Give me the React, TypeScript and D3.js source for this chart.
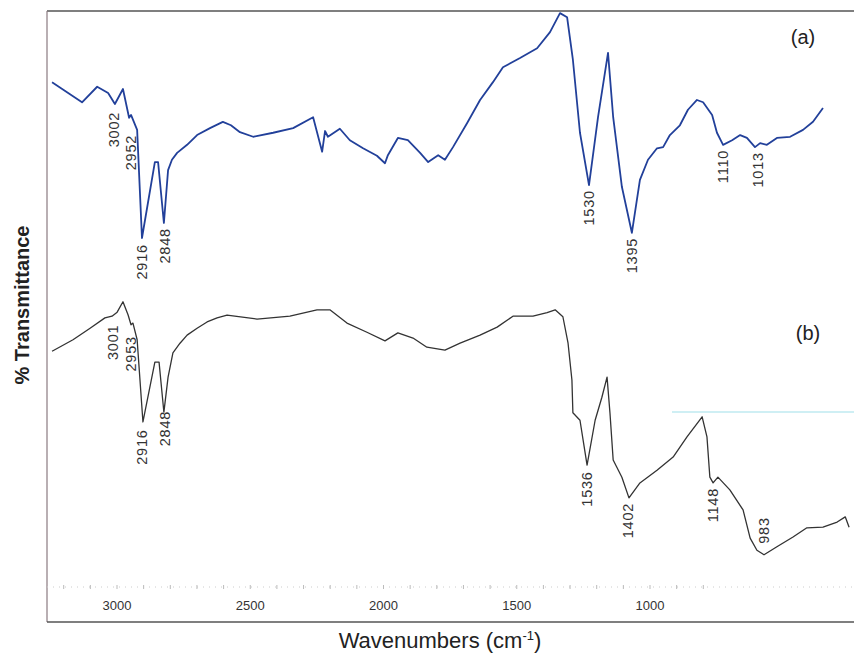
import React from 'react';
import * as d3 from 'd3';

// spectrum (a), blue: wavenumber (cm-1) and % transmittance
const waveA = [3195, 3102, 3055, 3021, 3000, 2975, 2956, 2950, 2931, 2916, 2876, 2866, 2848, 2835, 2823, 2807, 2776, 2745, 2705, 2665, 2640, 2612, 2571, 2509, 2447, 2385, 2357, 2348, 2339, 2302, 2271, 2230, 2187, 2162, 2153, 2122, 2091, 2053, 2028, 1997, 1976, 1951, 1907, 1867, 1827, 1796, 1743, 1690, 1650, 1619, 1597, 1579, 1557, 1529, 1501, 1470, 1454, 1427, 1396, 1371, 1346, 1318, 1299, 1278, 1247, 1222, 1194, 1175, 1147, 1132, 1113, 1085, 1060, 1039, 1014, 998, 977, 946, 905, 865, 834, 803];
const transA = [87.8, 84.3, 87.0, 85.9, 84.0, 86.6, 81.6, 82.1, 79.5, 60.7, 73.9, 73.9, 63.3, 72.5, 74.3, 75.5, 76.9, 78.6, 79.8, 80.9, 80.3, 79.1, 78.3, 79.0, 79.8, 81.7, 75.7, 79.3, 78.3, 79.7, 77.7, 76.3, 75.0, 73.7, 75.1, 78.1, 77.7, 75.5, 73.9, 75.1, 74.3, 76.5, 80.7, 84.7, 87.8, 90.4, 92.0, 93.7, 96.5, 99.8, 99.1, 91.7, 79.0, 69.9, 81.7, 92.9, 81.7, 69.6, 61.6, 70.8, 74.3, 76.3, 76.5, 78.6, 80.3, 83.0, 84.7, 84.3, 82.1, 79.0, 76.9, 77.7, 78.6, 78.1, 76.5, 77.2, 76.9, 78.1, 78.3, 79.5, 80.9, 83.3];

// spectrum (b), dark grey
const waveB = [3195, 3130, 3077, 3031, 3009, 2993, 2975, 2959, 2950, 2944, 2931, 2913, 2876, 2863, 2848, 2835, 2820, 2798, 2776, 2745, 2714, 2683, 2652, 2559, 2457, 2373, 2333, 2280, 2218, 2162, 2122, 2075, 2032, 1976, 1929, 1867, 1814, 1765, 1703, 1659, 1634, 1610, 1594, 1582, 1579, 1557, 1535, 1510, 1489, 1473, 1464, 1454, 1427, 1405, 1371, 1318, 1268, 1225, 1178, 1163, 1154, 1144, 1129, 1092, 1051, 1029, 1008, 986, 946, 896, 853, 803, 759, 734, 722];
const transB = [41.0, 43.0, 45.0, 46.8, 47.1, 47.8, 49.6, 47.3, 45.6, 45.9, 43.0, 28.7, 39.1, 39.1, 30.4, 36.5, 40.7, 42.4, 43.8, 45.0, 46.1, 46.8, 47.3, 46.6, 47.1, 48.2, 48.2, 45.9, 44.3, 42.8, 44.2, 43.3, 41.7, 41.2, 42.4, 43.8, 45.2, 47.1, 47.1, 47.7, 48.2, 47.0, 42.4, 36.0, 30.3, 29.0, 21.2, 29.0, 33.0, 36.5, 30.3, 22.1, 19.1, 15.5, 18.1, 20.3, 22.6, 26.1, 29.6, 26.1, 19.1, 18.1, 19.1, 16.9, 13.4, 8.5, 6.4, 5.6, 7.0, 8.7, 10.3, 10.4, 11.3, 12.2, 10.4];

// band labels: text, wavenumber and transmittance level the label hangs from
const bandsA = ['3002', '2952', '2916', '2848', '1530', '1395', '1110', '1013'];
const bandWaveA = [3003, 2951, 2916, 2844, 1529, 1395, 1113, 1006];
const bandLevelA = [83.5, 79.5, 60.5, 63.3, 69.9, 61.6, 76.9, 76.5];
const bandsB = ['3001', '2953', '2916', '2848', '1536', '1402', '1148', '983'];
const bandWaveB = [3006, 2950, 2916, 2844, 1537, 1408, 1144, 986];
const bandLevelB = [46.5, 44.5, 28.3, 31.5, 21.0, 15.5, 18.1, 13.0];

// printed axis
const axisTicks = [3000, 2500, 2000, 1500, 1000];

const W = 854;
const H = 662;

export default function App() {
  const x = d3.scaleLinear().domain([3356.5, 0]).range([0, 1081.8]);
  const xPrinted = d3.scaleLinear().domain([3000, 1000]).range([117, 650]);
  const y = d3.scaleLinear().domain([0, 100]).range([587, 12]);

  const pathFor = (ws: number[], ts: number[]) =>
    d3.line<number>()
      .x((_, i) => x(ws[i]))
      .y((_, i) => y(ts[i]))(ws.map((_, i) => i)) || '';

  const minorTicks = d3.range(3200, 700, -100);

  const labels = (names: string[], ws: number[], lv: number[], color: string) =>
    names.map((t, i) => {
      const px = x(ws[i]);
      const py = y(lv[i]) + 5;
      return (
        <text key={t + i} transform={`translate(${px},${py}) rotate(-90)`}
          textAnchor="end" dy="0.36em" fontSize={14.5} letterSpacing={0.8}
          fontFamily="Liberation Sans, Arial, sans-serif" fill={color}>{t}</text>
      );
    });

  return (
    <svg width={W} height={H} style={{ position: 'absolute', left: 0, top: 0, background: '#fff' }}>
      {/* frame */}
      <line x1={47} x2={W} y1={11} y2={11} stroke="#555" strokeWidth={1.4} />
      <line x1={47} x2={47} y1={11} y2={622} stroke="#8a7a80" strokeWidth={1.2} />
      <line x1={47} x2={W} y1={622} y2={622} stroke="#555" strokeWidth={1.4} />

      {/* inner printed axis, faint dotted */}
      <line x1={47} x2={W} y1={587} y2={587} stroke="#ccc" strokeWidth={1} strokeDasharray="1 5" />
      {minorTicks.map(t => (
        <line key={t} x1={xPrinted(t)} x2={xPrinted(t)} y1={585} y2={589} stroke="#bbb" strokeWidth={1} />
      ))}
      {axisTicks.map(t => (
        <text key={t} x={xPrinted(t)} y={610} textAnchor="middle" fontSize={13}
          fontFamily="Liberation Sans, Arial, sans-serif" fill="#333">{t}</text>
      ))}

      {/* scan artefact line */}
      <line x1={672} x2={W} y1={412} y2={412} stroke="#9fe0ea" strokeWidth={1.2} />

      <path d={pathFor(waveA, transA)} fill="none" stroke="#22409a" strokeWidth={1.8} strokeLinejoin="round" />
      <path d={pathFor(waveB, transB)} fill="none" stroke="#333" strokeWidth={1.3} strokeLinejoin="round" />

      {labels(bandsA, bandWaveA, bandLevelA, '#333')}
      {labels(bandsB, bandWaveB, bandLevelB, '#333')}

      <text x={803} y={44} textAnchor="middle" fontSize={20} fontFamily="Liberation Sans, Arial, sans-serif" fill="#222">(a)</text>
      <text x={808} y={340} textAnchor="middle" fontSize={20} fontFamily="Liberation Sans, Arial, sans-serif" fill="#222">(b)</text>

      <text transform="translate(29,305) rotate(-90)" textAnchor="middle" fontSize={20} fontWeight="bold"
        fontFamily="Liberation Sans, Arial, sans-serif" fill="#222">% Transmittance</text>
      <text x={440} y={648} textAnchor="middle" fontSize={22}
        fontFamily="Liberation Sans, Arial, sans-serif" fill="#222">
        Wavenumbers (cm<tspan dy={-8} fontSize={13}>-1</tspan><tspan dy={8}>)</tspan>
      </text>
    </svg>
  );
}
